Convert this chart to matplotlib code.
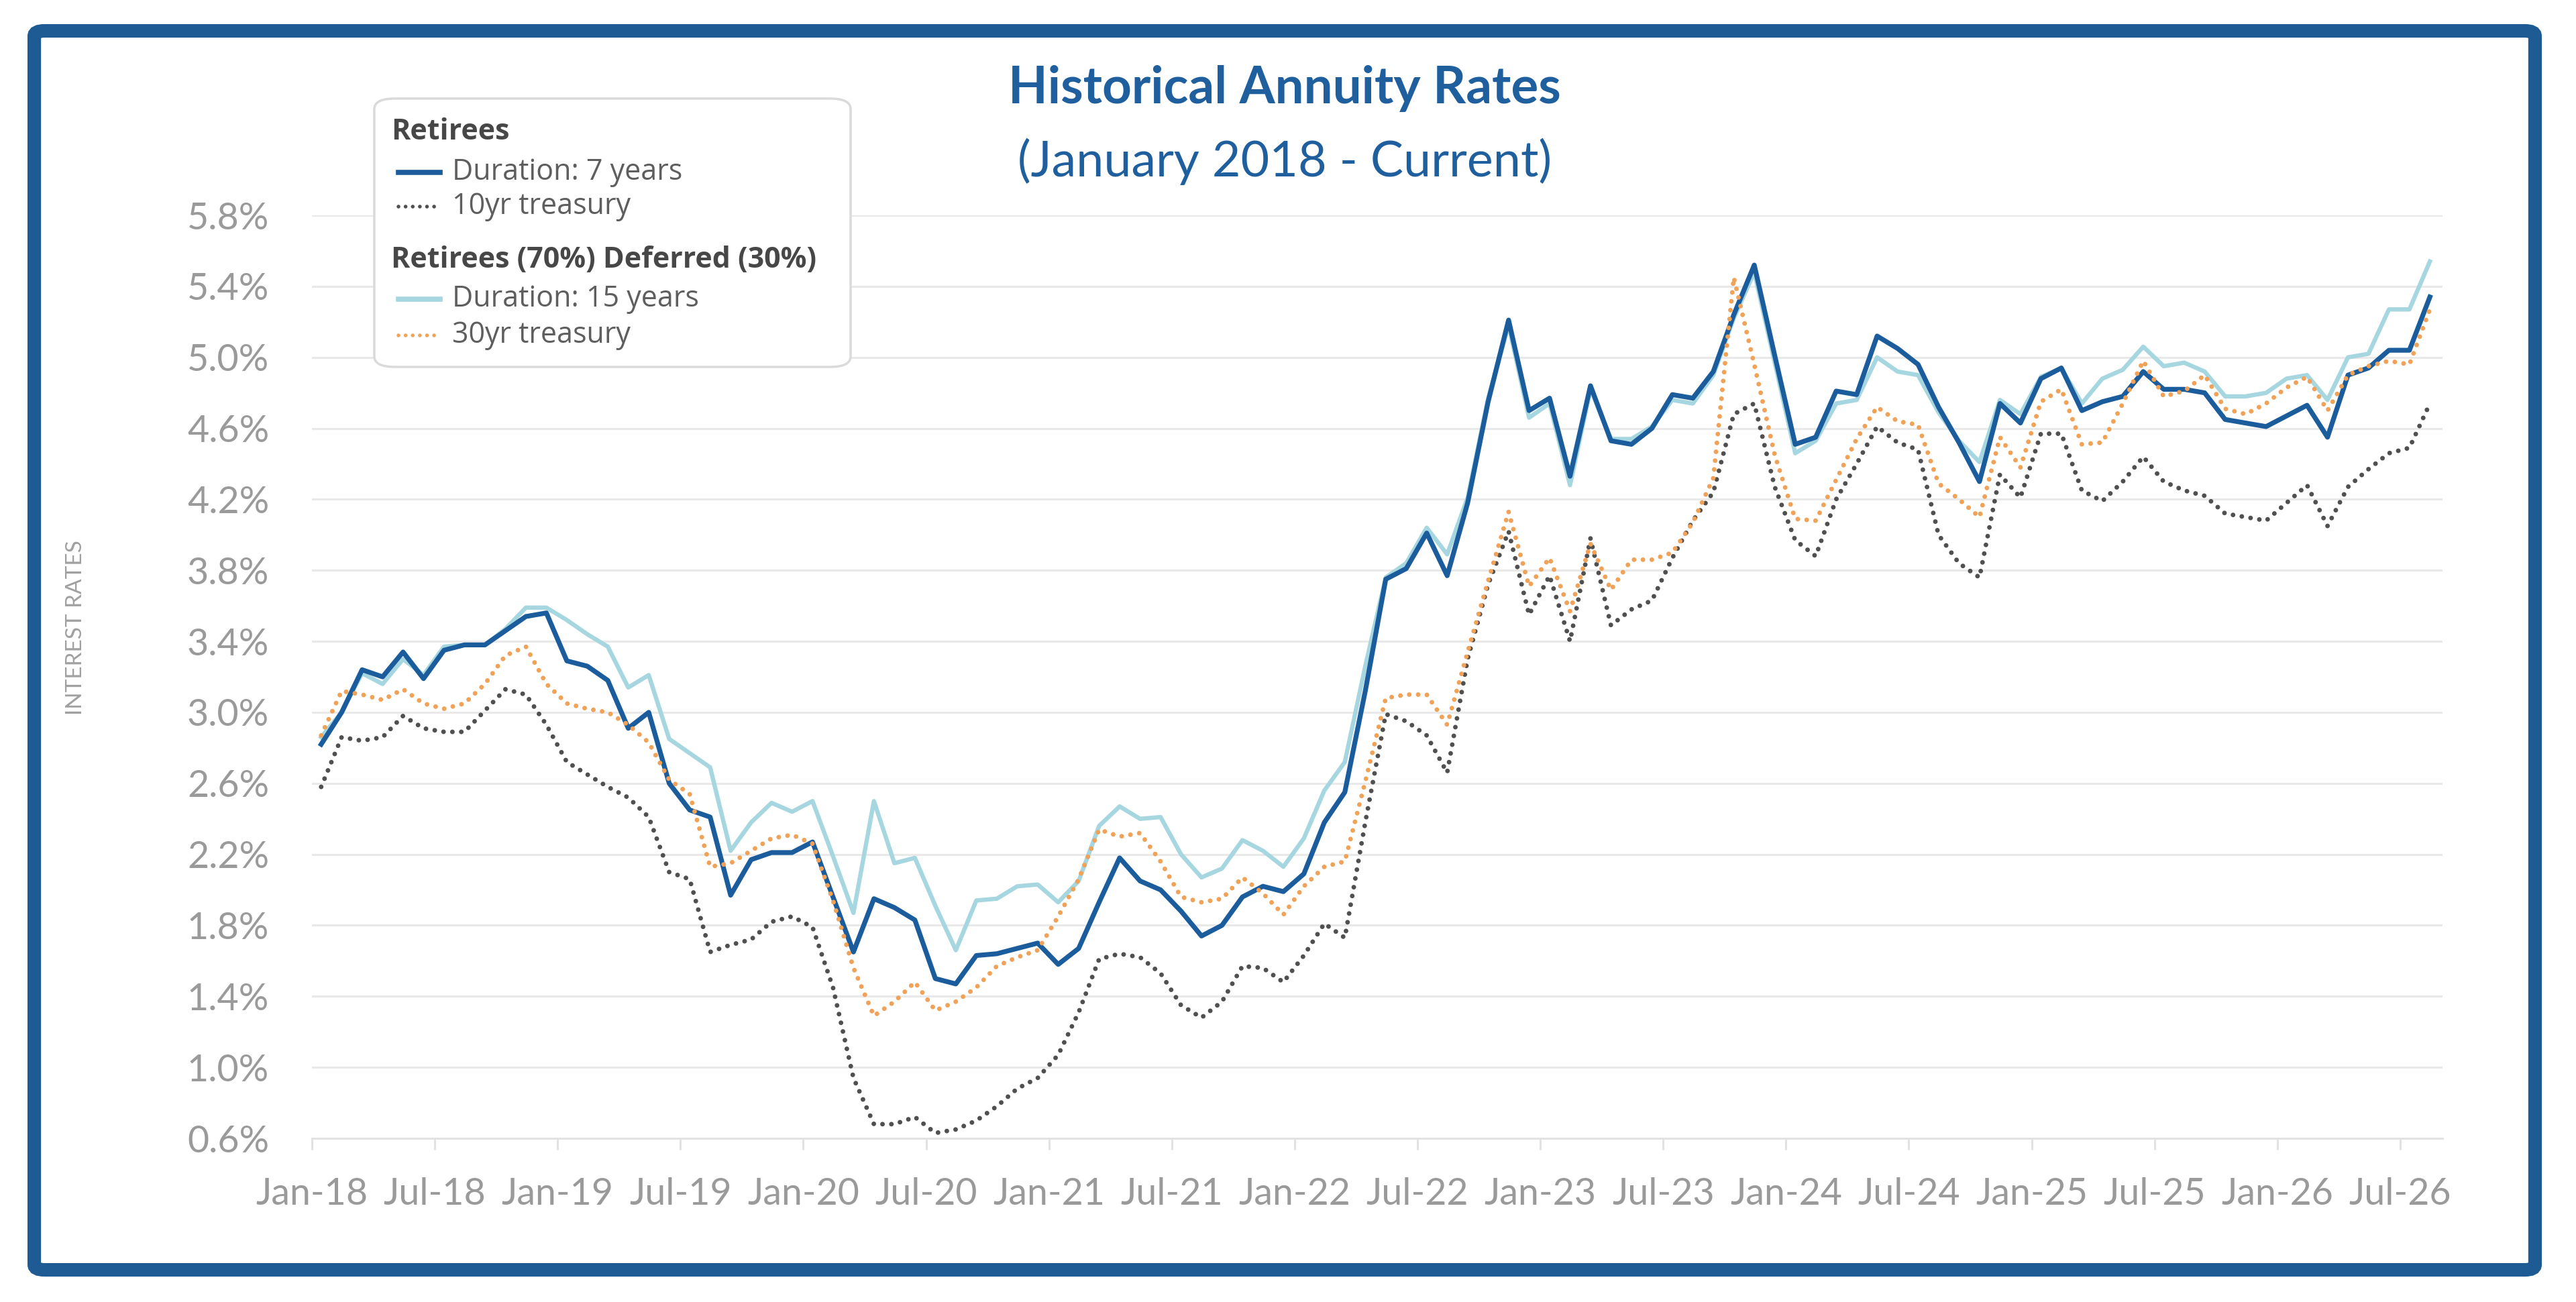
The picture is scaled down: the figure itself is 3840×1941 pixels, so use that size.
import numpy as np
import matplotlib.pyplot as plt
from matplotlib.patches import FancyBboxPatch
from matplotlib.lines import Line2D

plt.rcParams['font.family'] = ['Lato', 'DejaVu Sans']

# monthly values, Jan-18 .. Aug-26
dur7 = [2.82, 3.00, 3.24, 3.20, 3.34, 3.19, 3.35, 3.38, 3.38, 3.46, 3.54, 3.56,
        3.29, 3.26, 3.18, 2.91, 3.00, 2.60, 2.45, 2.41, 1.97, 2.17, 2.21, 2.21,
        2.27, 1.96, 1.65, 1.95, 1.90, 1.83, 1.50, 1.47, 1.63, 1.64, 1.67, 1.70,
        1.58, 1.67, 1.93, 2.18, 2.05, 2.00, 1.88, 1.74, 1.80, 1.96, 2.02, 1.99,
        2.09, 2.38, 2.55, 3.12, 3.75, 3.81, 4.01, 3.77, 4.18, 4.75, 5.21, 4.70,
        4.77, 4.33, 4.84, 4.53, 4.51, 4.60, 4.79, 4.77, 4.92, 5.24, 5.52, 5.01,
        4.51, 4.55, 4.81, 4.79, 5.12, 5.05, 4.96, 4.72, 4.52, 4.30, 4.74, 4.63,
        4.88, 4.94, 4.70, 4.75, 4.78, 4.92, 4.82, 4.82, 4.80, 4.65, 4.63, 4.61,
        4.67, 4.73, 4.55, 4.90, 4.94, 5.04, 5.04, 5.34]
dur15 = [2.86, 3.00, 3.22, 3.16, 3.30, 3.21, 3.37, 3.38, 3.38, 3.47, 3.59, 3.59,
         3.52, 3.44, 3.37, 3.14, 3.21, 2.85, 2.77, 2.69, 2.22, 2.38, 2.49, 2.44,
         2.50, 2.19, 1.87, 2.50, 2.15, 2.18, 1.91, 1.66, 1.94, 1.95, 2.02, 2.03,
         1.93, 2.05, 2.36, 2.47, 2.40, 2.41, 2.20, 2.07, 2.12, 2.28, 2.22, 2.13,
         2.29, 2.56, 2.72, 3.26, 3.76, 3.84, 4.04, 3.89, 4.21, 4.77, 5.18, 4.66,
         4.74, 4.28, 4.82, 4.54, 4.54, 4.61, 4.76, 4.74, 4.90, 5.22, 5.48, 4.97,
         4.46, 4.53, 4.74, 4.76, 5.00, 4.92, 4.90, 4.69, 4.53, 4.41, 4.76, 4.68,
         4.89, 4.94, 4.74, 4.88, 4.93, 5.06, 4.95, 4.97, 4.92, 4.78, 4.78, 4.80,
         4.88, 4.90, 4.76, 5.00, 5.02, 5.27, 5.27, 5.54]
tsy10 = [2.58, 2.86, 2.84, 2.86, 2.98, 2.91, 2.89, 2.89, 3.01, 3.13, 3.10, 2.93,
         2.72, 2.65, 2.58, 2.52, 2.41, 2.10, 2.06, 1.65, 1.69, 1.72, 1.82, 1.85,
         1.79, 1.45, 0.94, 0.68, 0.68, 0.72, 0.63, 0.65, 0.70, 0.78, 0.88, 0.94,
         1.07, 1.31, 1.61, 1.64, 1.62, 1.53, 1.35, 1.28, 1.37, 1.57, 1.56, 1.48,
         1.63, 1.81, 1.73, 2.38, 2.99, 2.95, 2.87, 2.66, 3.30, 3.72, 4.02, 3.55,
         3.77, 3.40, 3.98, 3.49, 3.58, 3.63, 3.87, 4.08, 4.24, 4.68, 4.74, 4.27,
         3.97, 3.88, 4.20, 4.40, 4.61, 4.52, 4.48, 4.00, 3.84, 3.76, 4.34, 4.21,
         4.57, 4.57, 4.25, 4.19, 4.30, 4.44, 4.30, 4.25, 4.22, 4.12, 4.10, 4.08,
         4.18, 4.28, 4.05, 4.27, 4.37, 4.46, 4.49, 4.74]
tsy30 = [2.87, 3.12, 3.10, 3.07, 3.13, 3.05, 3.02, 3.05, 3.16, 3.32, 3.37, 3.16,
         3.05, 3.02, 3.00, 2.93, 2.83, 2.62, 2.54, 2.13, 2.15, 2.22, 2.29, 2.31,
         2.26, 1.94, 1.56, 1.29, 1.37, 1.48, 1.32, 1.37, 1.45, 1.57, 1.62, 1.66,
         1.85, 2.06, 2.34, 2.30, 2.32, 2.16, 1.96, 1.93, 1.95, 2.07, 1.98, 1.86,
         2.02, 2.13, 2.16, 2.61, 3.08, 3.10, 3.10, 2.93, 3.34, 3.74, 4.13, 3.71,
         3.87, 3.57, 3.95, 3.69, 3.86, 3.86, 3.90, 4.07, 4.32, 5.45, 4.96, 4.45,
         4.09, 4.08, 4.31, 4.54, 4.72, 4.64, 4.62, 4.29, 4.20, 4.10, 4.55, 4.38,
         4.75, 4.82, 4.51, 4.52, 4.74, 4.98, 4.78, 4.81, 4.90, 4.71, 4.68, 4.74,
         4.83, 4.89, 4.70, 4.90, 4.95, 4.98, 4.96, 5.27]

tick_labels = ['Jan-18', 'Jul-18', 'Jan-19', 'Jul-19', 'Jan-20', 'Jul-20',
               'Jan-21', 'Jul-21', 'Jan-22', 'Jul-22', 'Jan-23', 'Jul-23',
               'Jan-24', 'Jul-24', 'Jan-25', 'Jul-25', 'Jan-26', 'Jul-26']
y_ticks = [0.6, 1.0, 1.4, 1.8, 2.2, 2.6, 3.0, 3.4, 3.8, 4.2, 4.6, 5.0, 5.4, 5.8]

DARK = '#1b5c9c'
LIGHT = '#a6d6df'
ORANGE = '#f0a258'
GREY_DOT = '#505050'
TXT = '#9a9a9a'

fig = plt.figure(figsize=(38.4, 19.41), dpi=100)
ax = fig.add_axes([0.1211, 0.1257, 0.8271, 0.7089])

x = np.arange(len(dur7)) + 0.45
dots = (0, (0.01, 1.9))

ax.plot(x, dur15, color=LIGHT, lw=4.6, solid_joinstyle='round', zorder=3)
ax.plot(x, dur7, color=DARK, lw=5.2, solid_joinstyle='round', zorder=4)
ax.plot(x, tsy10, color=GREY_DOT, lw=5, linestyle=dots, dash_capstyle='round', zorder=5)
ax.plot(x, tsy30, color=ORANGE, lw=5, linestyle=dots, dash_capstyle='round', zorder=6)

ax.set_xlim(0, 104.07)
ax.set_ylim(0.6, 5.8)
ax.set_yticks(y_ticks)
ax.set_yticklabels([f'{v:.1f}%' for v in y_ticks])
ax.set_xticks(np.arange(0, 103, 6))
ax.set_xticklabels(tick_labels)
ax.grid(axis='y', color='#e9e9e9', lw=2.2)
ax.set_axisbelow(True)
for s in ['top', 'right', 'left']:
    ax.spines[s].set_visible(False)
ax.spines['bottom'].set_color('#e2e2e2')
ax.spines['bottom'].set_linewidth(2.2)
ax.tick_params(axis='y', length=0, pad=46, labelsize=40, labelcolor=TXT)
ax.tick_params(axis='x', length=12, width=2.2, color='#e2e2e2', pad=30,
               labelsize=40, labelcolor=TXT)

fig.text(0.0295, 0.518, 'INTEREST RATES', rotation=90, ha='center', va='center',
         fontsize=24, color='#a0a0a0')

# titles
fig.text(0.4987, 0.932, 'Historical Annuity Rates', ha='center', va='center',
         fontsize=55, fontweight='bold', color='#1f5f9e')
fig.text(0.4987, 0.876, '(January 2018 - Current)', ha='center', va='center',
         fontsize=53, color='#1f5f9e')

# outer frame
frame = FancyBboxPatch((0.0133, 0.0247), 0.9708, 0.9516,
                       boxstyle='round,pad=0,rounding_size=0.004',
                       transform=fig.transFigure, fill=False,
                       edgecolor='#1e5b94', lw=14.5)
fig.patches.append(frame)

# legend box
box = FancyBboxPatch((0.1453, 0.7182), 0.1849, 0.2061,
                     boxstyle='round,pad=0,rounding_size=0.008',
                     transform=fig.transFigure, facecolor='white',
                     edgecolor='#dadada', lw=2.5, zorder=5)
fig.patches.append(box)

H = 1941.0
def fy(py):
    return 1 - py / H

LEG_FONT = ['Open Sans', 'DejaVu Sans']
hx0, hx1, tx = 594 / 3840, 656 / 3840, 674 / 3840
hdr_x = 583 / 3840
fig.text(hdr_x, fy(196), 'Retirees', fontsize=31, fontweight='bold', family=LEG_FONT,
         color='#474747', va='center', zorder=7)
fig.text(hdr_x, fy(388), 'Retirees (70%) Deferred (30%)', fontsize=31, family=LEG_FONT,
         fontweight='bold', color='#474747', va='center', zorder=7)
entries = [(257, 'Duration: 7 years', DARK, '-', 5.5),
           (308, '10yr treasury', GREY_DOT, dots, 4),
           (446, 'Duration: 15 years', LIGHT, '-', 5.5),
           (500, '30yr treasury', ORANGE, dots, 4)]
for py, label, col, ls, lw in entries:
    ln = Line2D([hx0, hx1], [fy(py), fy(py)], transform=fig.transFigure,
                color=col, lw=lw, linestyle=ls, dash_capstyle='round', zorder=7)
    fig.lines.append(ln)
    fig.text(tx, fy(py), label, fontsize=31, family=LEG_FONT, color='#5e5e5e',
             va='center', zorder=7)

fig.savefig('out.png', dpi=100, facecolor='white')
